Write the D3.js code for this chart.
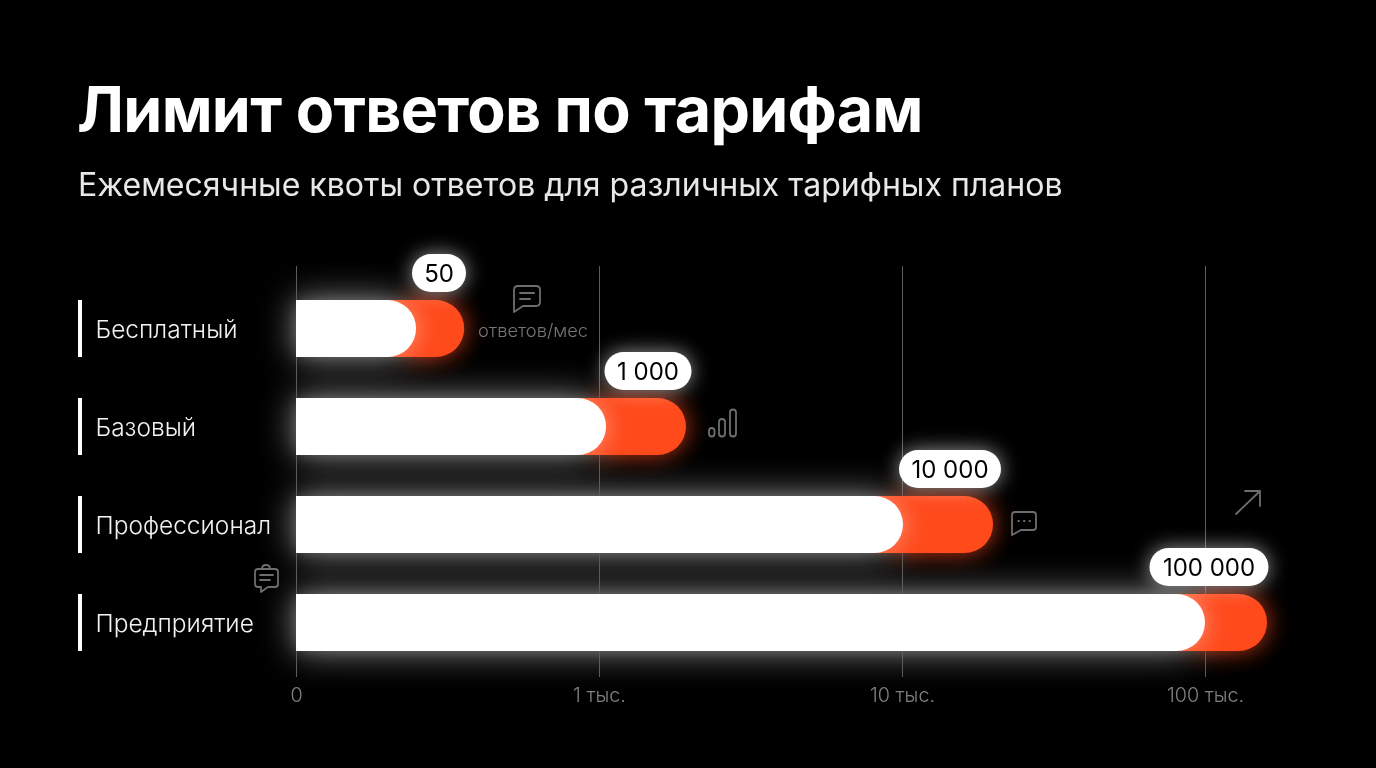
<!DOCTYPE html>
<html lang="ru"><head><meta charset="utf-8">
<script src="https://cdn.jsdelivr.net/npm/d3@7"></script>
<style>
html,body{margin:0;padding:0;background:#000;overflow:hidden}
svg{display:block;opacity:.999}
text{font-family:Inter,Roboto,sans-serif}
</style></head><body>
<svg id="c" width="1376" height="768"></svg>
<script>
const titleText = "Лимит ответов по тарифам";
const subtitleText = "Ежемесячные квоты ответов для различных тарифных планов";
const categories = ["Бесплатный","Базовый","Профессионал","Предприятие"];
const valueLabels = ["50","1 000","10 000","100 000"];
// bar ends, in axis units
const whiteEnds = [249,1055,10076,100000];
const orangeEnds = [359,1937,19970,160200];
const tickValues = [100,1000,10000,100000];
const tickLabels = ["0","1 тыс.","10 тыс.","100 тыс."];
const annotationText = "ответов/мес";

const svg = d3.select("#c");
const defs = svg.append("defs");
[["glowWide",18],["glowTight",7],["glowO",12],["glowIn",12],["glowPill",10]].forEach(([id,s])=>{
  defs.append("filter").attr("id",id).attr("x","-40%").attr("y","-150%").attr("width","180%").attr("height","400%")
    .append("feGaussianBlur").attr("stdDeviation",s);
});

svg.append("rect").attr("width",1376).attr("height",768).attr("fill","#000");
svg.append("text").attr("x",77).attr("y",132).attr("fill","#fff").attr("font-size",62.7).attr("font-weight",700).attr("letter-spacing",-0.68).text(titleText);
svg.append("text").attr("x",78).attr("y",196).attr("fill","#e8e8e8").attr("font-size",32.05).attr("font-weight",400).text(subtitleText);

const x = d3.scaleLog().domain([100,100000]).range([296,1205]);
const y = d3.scaleBand().domain(categories).range([279.5,671.5]).paddingInner(0.418).paddingOuter(0.209);
const bw = y.bandwidth(), r = bw/2;

const rows = categories.map((c,i)=>({c,i,label:valueLabels[i],w:whiteEnds[i],o:orangeEnds[i]}));

function rounded(x0,x1,yy){
  const h=bw, rr=Math.min(r,x1-x0);
  return `M${x0},${yy}H${x1-rr}A${rr},${rr} 0 0 1 ${x1},${yy+rr}A${rr},${rr} 0 0 1 ${x1-rr},${yy+h}H${x0}Z`;
}

// glows
const glow = svg.append("g");
glow.selectAll(".go").data(rows).join("path")
  .attr("d",d=>rounded(x(d.w)-10,x(d.o),y(d.c))).attr("fill","#ff4a1c").attr("opacity",.8).attr("filter","url(#glowO)");
glow.selectAll(".gw").data(rows).join("path")
  .attr("d",d=>rounded(x.range()[0],x(d.w),y(d.c))).attr("fill","#fff").attr("opacity",.55).attr("filter","url(#glowWide)");
glow.selectAll(".gt").data(rows).join("path")
  .attr("d",d=>rounded(x.range()[0],x(d.w),y(d.c))).attr("fill","#fff").attr("opacity",.16).attr("filter","url(#glowTight)");

// grid + axis, over the glow
const axis = d3.axisBottom(x).tickValues(tickValues).tickFormat((d,i)=>tickLabels[i]).tickSize(411).tickPadding(11);
const ag = svg.append("g").attr("transform","translate(0,266)").call(axis);
ag.select(".domain").remove();
ag.selectAll("line").attr("stroke","#5c5c5c").attr("stroke-width",1);
ag.selectAll("text").attr("fill","#808080").attr("font-size",19.8).attr("font-weight",300).attr("font-family","Inter,Roboto,sans-serif");

// orange bars with clipped inner white glow
rows.forEach(d=>{
  const id="clip"+d.i;
  defs.append("clipPath").attr("id",id).append("path").attr("d",rounded(x.range()[0],x(d.o),y(d.c)));
  const g=svg.append("g");
  g.append("path").attr("d",rounded(x.range()[0],x(d.o),y(d.c))).attr("fill","#ff4a1c");
  g.append("g").attr("clip-path",`url(#${id})`).append("path")
    .attr("d",rounded(x.range()[0],x(d.w),y(d.c))).attr("fill","#ffffff").attr("opacity",.42).attr("filter","url(#glowIn)");
  g.append("path").attr("d",rounded(x.range()[0],x(d.w),y(d.c))).attr("fill","#fff");
});

// left markers + labels
svg.selectAll(".mk").data(categories).join("rect").attr("x",78).attr("width",4)
  .attr("y",d=>y(d)).attr("height",bw).attr("fill","#fff");
svg.selectAll(".lb").data(categories).join("text").attr("x",95.5).attr("y",d=>y(d)+r+9)
  .attr("fill","#f2f2f2").attr("font-size",24.5).attr("font-weight",300).text(d=>d);

// pills
const pillW=[54,87,102,119];
const pillCx=[439,648,950,1209];
rows.forEach(d=>{
  const cx=pillCx[d.i], w=pillW[d.i], h=38, top=y(d.c)-46;
  svg.append("rect").attr("x",cx-w/2).attr("y",top).attr("width",w).attr("height",h).attr("rx",19)
    .attr("fill","#fff").attr("opacity",.6).attr("filter","url(#glowPill)");
  svg.append("rect").attr("x",cx-w/2).attr("y",top).attr("width",w).attr("height",h).attr("rx",19).attr("fill","#fff");
  svg.append("text").attr("x",cx).attr("y",top+h/2+9.5).attr("text-anchor","middle")
    .attr("fill","#000").attr("font-size",24).attr("font-weight",400).text(d.label);
});

// annotation
svg.append("text").attr("x",533).attr("y",337).attr("text-anchor","middle").attr("fill","#757575").attr("font-size",18.3).attr("font-weight",300).text(annotationText);

// icons
const ic = svg.append("g").attr("fill","none").attr("stroke","#6e6e6e").attr("stroke-width",1.8).attr("stroke-linejoin","round").attr("stroke-linecap","round");
ic.append("path").attr("d","M518,286H536Q540,286 540,290V302Q540,306 536,306H523L514,312V290Q514,286 518,286ZM520,293H534M520,299H530");
ic.append("rect").attr("x",709).attr("y",428).attr("width",5.5).attr("height",8.5).attr("rx",2.7);
ic.append("rect").attr("x",719).attr("y",419).attr("width",6).attr("height",17.5).attr("rx",3);
ic.append("rect").attr("x",730).attr("y",409.5).attr("width",6).attr("height",27).attr("rx",3);
ic.append("path").attr("d","M1015,512H1033Q1036,512 1036,515V527Q1036,530 1033,530H1021L1012,535V515Q1012,512 1015,512Z");
ic.append("path").attr("d","M1018.5,521h.4M1024,521h.4M1029.5,521h.4").attr("stroke-width",2.2);
ic.append("path").attr("d","M1236,514L1260,491M1245,491H1260V506");
ic.append("path").attr("d","M258,569H275Q278,569 278,572V584Q278,587 275,587H268L261,592V587H258Q255,587 255,584V572Q255,569 258,569ZM262,569Q262,565 266,565Q270,565 270,569M260,575H273M260,580H270");
</script>
</body></html>
